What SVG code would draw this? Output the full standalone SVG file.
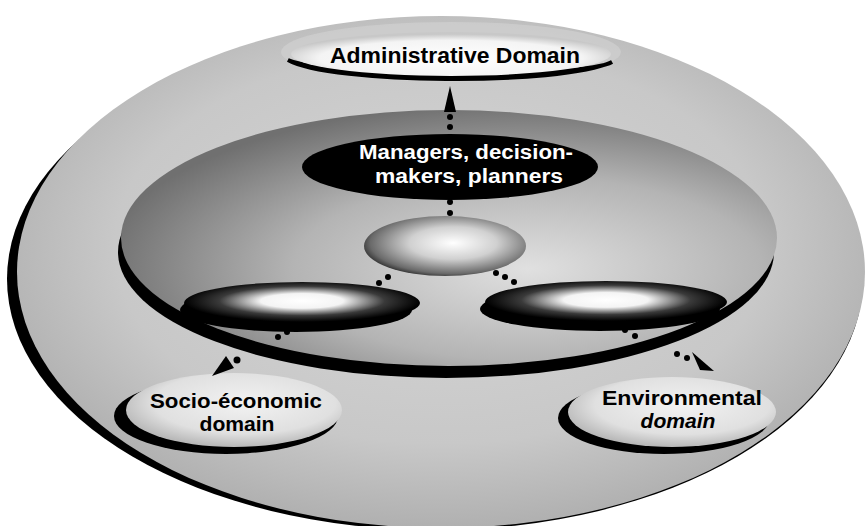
<svg xmlns="http://www.w3.org/2000/svg" width="865" height="526" viewBox="0 0 865 526">
<defs>
<radialGradient id="gOuter" cx="0.5" cy="0.45" r="0.55">
<stop offset="0" stop-color="#d6d6d6"/>
<stop offset="0.7" stop-color="#c8c8c8"/>
<stop offset="1" stop-color="#b0b0b0"/>
</radialGradient>
<radialGradient id="gInner" cx="0.62" cy="0.62" r="0.65">
<stop offset="0" stop-color="#e0e0e0"/>
<stop offset="0.55" stop-color="#b4b4b4"/>
<stop offset="1" stop-color="#707070"/>
</radialGradient>
<radialGradient id="gActors" cx="0.55" cy="0.45" r="0.6">
<stop offset="0" stop-color="#ffffff"/>
<stop offset="0.45" stop-color="#d0d0d0"/>
<stop offset="0.85" stop-color="#6a6a6a"/>
<stop offset="1" stop-color="#202020"/>
</radialGradient>
<radialGradient id="gMid" cx="0.5" cy="0.45" r="0.5">
<stop offset="0" stop-color="#ffffff"/>
<stop offset="0.35" stop-color="#f4f4f4"/>
<stop offset="0.7" stop-color="#3a3a3a"/>
<stop offset="1" stop-color="#000000"/>
</radialGradient>
<radialGradient id="gDomain" cx="0.55" cy="0.4" r="0.6">
<stop offset="0" stop-color="#f2f2f2"/>
<stop offset="0.7" stop-color="#e0e0e0"/>
<stop offset="1" stop-color="#b8b8b8"/>
</radialGradient>
<radialGradient id="gAdmin" cx="0.5" cy="0.6" r="0.55">
<stop offset="0" stop-color="#ffffff"/>
<stop offset="0.75" stop-color="#f4f4f4"/>
<stop offset="1" stop-color="#c8c8c8"/>
</radialGradient>
</defs>
<style>
.lbl{font-family:"Liberation Sans",Arial,sans-serif;font-weight:bold;font-size:20px;text-anchor:middle;fill:#000}
.wlbl{font-family:"Liberation Sans",Arial,sans-serif;font-weight:bold;font-size:20px;text-anchor:middle;fill:#fff}
.big{font-size:22px}
.dot{fill:#000}
.head{fill:#000}
</style>
<rect width="865" height="526" fill="#ffffff"/>

<g id="outer-disc">
<ellipse cx="435" cy="279" rx="428" ry="251" fill="#000"/>
<ellipse cx="441" cy="272" rx="424" ry="256" fill="url(#gOuter)"/>
</g>

<g id="admin-domain">
<ellipse cx="451" cy="52" rx="170" ry="30" fill="#d0d0d0" opacity="0.7"/>
<path d="M288,60 C330,84 560,86 612,62 C585,78 340,80 288,60 Z" fill="#000" stroke="#000" stroke-width="4"/>
<ellipse cx="451" cy="54" rx="160" ry="22" fill="url(#gAdmin)"/>
<text class="lbl big" x="455" y="63" textLength="250" lengthAdjust="spacingAndGlyphs">Administrative Domain</text>
</g>

<g id="inner-disc">
<ellipse cx="446" cy="252" rx="328" ry="126" fill="#000"/>
<ellipse cx="449" cy="238" rx="328" ry="128" fill="url(#gInner)"/>
</g>

<g id="managers">
<ellipse cx="450" cy="167" rx="148" ry="33" fill="#000"/>
<text class="wlbl" x="466" y="159" textLength="214" lengthAdjust="spacingAndGlyphs">Managers, decision-</text>
<text class="wlbl" x="469" y="183" textLength="188" lengthAdjust="spacingAndGlyphs">makers, planners</text>
</g>

<g id="actors">
<ellipse cx="445" cy="246" rx="81" ry="30" fill="url(#gActors)"/>
</g>

<g id="left-node">
<ellipse cx="296" cy="310" rx="116" ry="22" fill="#000"/>
<ellipse cx="302" cy="303" rx="118" ry="21" fill="url(#gMid)"/>
</g>

<g id="right-node">
<ellipse cx="600" cy="309" rx="120" ry="22" fill="#000"/>
<ellipse cx="606" cy="302" rx="121" ry="21" fill="url(#gMid)"/>
</g>

<g id="socio-domain">
<ellipse cx="226" cy="416" rx="112" ry="38" fill="#000"/>
<ellipse cx="234" cy="410" rx="108" ry="37" fill="url(#gDomain)"/>
<text class="lbl" x="236" y="408" textLength="172" lengthAdjust="spacingAndGlyphs">Socio-économic</text>
<text class="lbl" x="237" y="431" textLength="75" lengthAdjust="spacingAndGlyphs">domain</text>
</g>

<g id="env-domain">
<ellipse cx="664" cy="418" rx="106" ry="36" fill="#000"/>
<ellipse cx="672" cy="412" rx="104" ry="35" fill="url(#gDomain)"/>
<text class="lbl" x="682" y="405" textLength="160" lengthAdjust="spacingAndGlyphs">Environmental</text>
<text class="lbl" x="678" y="428" font-style="italic" textLength="75" lengthAdjust="spacingAndGlyphs">domain</text>
</g>

<g id="connectors">
<path class="head" d="M450,86 L444,112 L456,112 Z"/>
<circle class="dot" cx="450" cy="117" r="3"/>
<circle class="dot" cx="450" cy="127" r="3"/>
<circle class="dot" cx="450" cy="202" r="3"/>
<circle class="dot" cx="450" cy="213" r="3"/>
<circle class="dot" cx="388" cy="277" r="3"/>
<circle class="dot" cx="379" cy="283" r="3"/>
<circle class="dot" cx="496" cy="273" r="3"/>
<circle class="dot" cx="505" cy="277" r="3"/>
<circle class="dot" cx="514" cy="282" r="3"/>
<circle class="dot" cx="287" cy="332" r="3"/>
<circle class="dot" cx="278" cy="337" r="3"/>
<circle class="dot" cx="237" cy="360" r="3.5"/>
<path class="head" d="M212,376 L226,356 L234,368 Z"/>
<circle class="dot" cx="625" cy="330" r="3"/>
<circle class="dot" cx="635" cy="336" r="3"/>
<circle class="dot" cx="677" cy="354" r="3"/>
<circle class="dot" cx="687" cy="358" r="3"/>
<path class="head" d="M714,371 L692,352 L700,370 Z"/>
</g>
</svg>
